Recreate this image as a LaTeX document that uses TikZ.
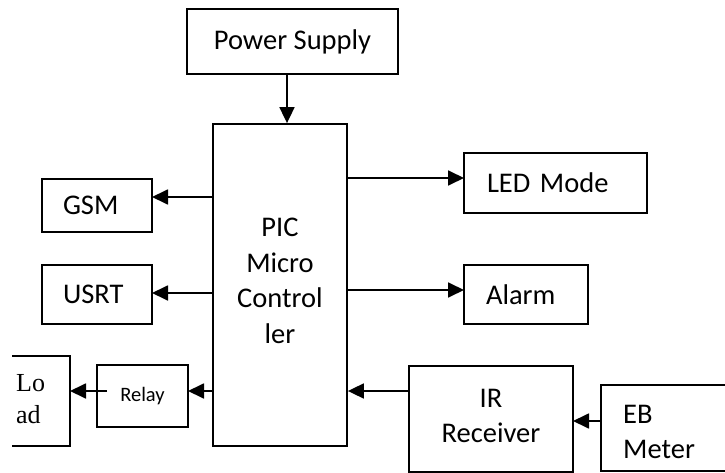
\documentclass[tikz,border=0pt]{standalone}
\usepackage{fontspec}
\setmainfont{Carlito}
\newfontfamily\loadfont{Liberation Serif}
\usetikzlibrary{arrows.meta,calc}
\begin{document}
\begin{tikzpicture}[x=1pt,y=-1pt,
  box/.style={draw,line width=1.8pt,inner sep=0pt},
  txt/.style={font=\fontsize{28.5}{35.5}\selectfont},
  arr/.style={line width=1.8pt,-{Triangle[length=16pt,width=15pt]}},
  frame/.style={line width=1.8pt}]
\useasboundingbox (0,0) rectangle (725,473);
% boxes
\node[box,txt,minimum width=211pt,minimum height=65pt] (power) at (292.5,41.5) {Power Supply};
\node[box,minimum width=134pt,minimum height=322pt] (pic) at (280,285) {};
\node[txt,align=center,inner sep=0pt] (pictext) at (280,281) {PIC\\Micro\\Control\\ler};
\node[box,txt,text width=68pt,inner xsep=21pt,align=left,minimum height=53pt] (gsm) at (97,205.5) {GSM};
\node[box,txt,text width=68pt,inner xsep=21pt,align=left,minimum height=59pt] (usrt) at (97,294.5) {USRT};
\node[box,txt,text width=137pt,inner xsep=23pt,align=left,minimum height=60pt] (led) at (555.5,183) {LED Mode};
\node[box,txt,text width=80pt,inner xsep=22pt,align=left,minimum height=59pt] (alarm) at (526,294.5) {Alarm};
\node[box,font=\fontsize{20.5}{24}\selectfont,minimum width=91pt,minimum height=62pt] (relay) at (142.5,396) {Relay};
\node[box,minimum width=164pt,minimum height=106pt] (ir) at (491,419) {};
\node[txt,align=center,inner sep=0pt] (irtext) at (491,416) {IR\\Receiver};
% open boxes (cropped at the picture edges)
\draw[frame] (12,356) -- (70,356) -- (70,446) -- (12,446);
\coordinate (loadE) at (70,391);
\node[font=\loadfont\fontsize{26}{32}\selectfont,align=left,anchor=west,inner sep=0pt] (load) at (16,399) {Lo\\ad};
\draw[frame] (725,385) -- (601,385) -- (601,471) -- (725,471);
\coordinate (ebW) at (601,421);
\node[txt,align=left,anchor=west,inner sep=0pt] (eb) at (623,432) {EB\\Meter};
% connector anchors
\coordinate (psOut) at ($(power.south)+(-5.5,0)$);
\coordinate (gsmIn) at (152,197);
\coordinate (usrtIn) at (152,293);
\coordinate (ledIn) at (464,178);
\coordinate (alarmIn) at (464,290);
\coordinate (relayIn) at (188,391);
\coordinate (relayOut) at (107,391);
\coordinate (irOut) at (409,391);
\coordinate (irIn) at (573,421);
% connectors
\draw[arr] (psOut) -- (psOut |- pic.north);
\draw[arr] (pic.west |- gsmIn) -- (gsmIn);
\draw[arr] (pic.west |- usrtIn) -- (usrtIn);
\draw[arr] (pic.east |- ledIn) -- (ledIn);
\draw[arr] (pic.east |- alarmIn) -- (alarmIn);
\draw[arr] (pic.west |- relayIn) -- (relayIn);
\draw[arr] (relayOut) -- (loadE);
\draw[arr] (irOut) -- (pic.east |- irOut);
\draw[arr] (ebW) -- (irIn);
\end{tikzpicture}
\end{document}
